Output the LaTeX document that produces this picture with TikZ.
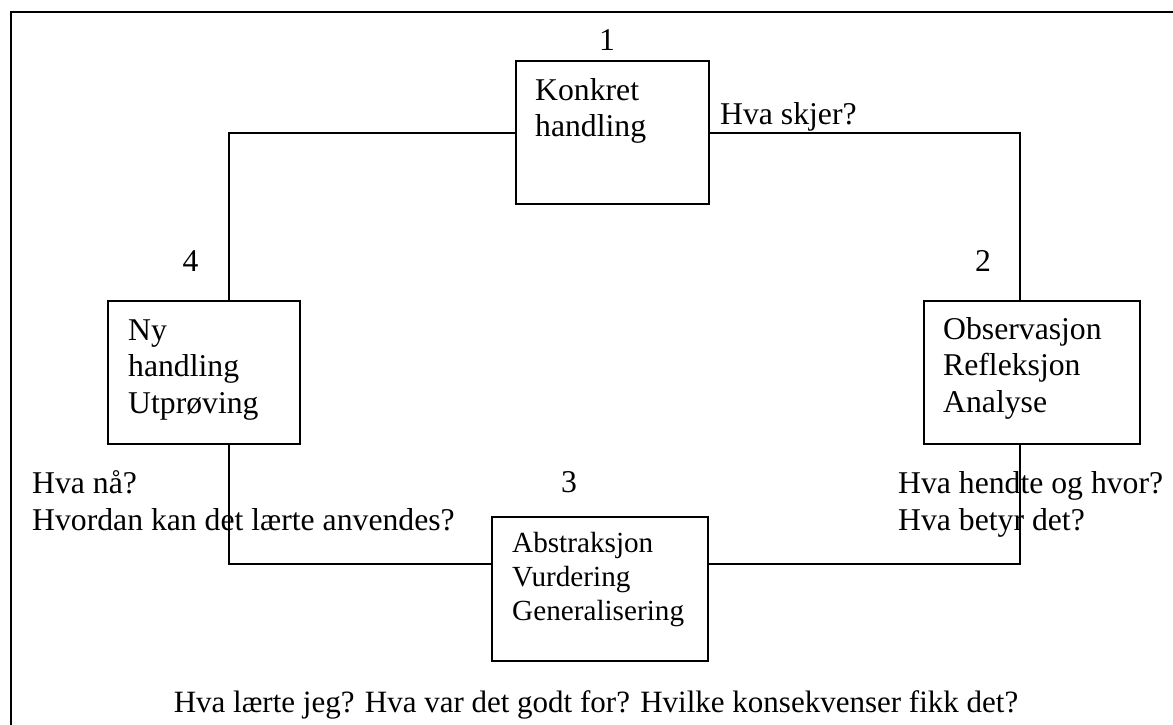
\documentclass[tikz,border=0pt]{standalone}
\usepackage{fontspec}
\setmainfont{Liberation Serif}
\usetikzlibrary{calc}
\begin{document}
\begin{tikzpicture}[x=1pt,y=-1pt,
  box/.style={draw,line width=2pt,anchor=north west,inner sep=0pt},
  txt/.style={anchor=base west,inner sep=0pt,align=left,font=\fontsize{31.7}{36.5}\selectfont},
  smalltxt/.style={anchor=base west,inner sep=0pt,align=left,font=\fontsize{29.2}{34}\selectfont},
  num/.style={anchor=base,inner sep=0pt,font=\fontsize{31.7}{36.5}\selectfont},
  bottomtxt/.style={anchor=base,inner sep=0pt,font=\fontsize{31}{36}\selectfont},
  conn/.style={line width=2pt},
  frame/.style={line width=2.5pt}]
\useasboundingbox (0,0) rectangle (1173,724);
% frame
\coordinate (fbl) at (11,730);
\coordinate (ftl) at (11,12);
\coordinate (ftr) at (1180,12);
\draw[frame] (fbl) -- (ftl) -- (ftr);
% boxes
\node[box,minimum width=193pt,minimum height=143pt] (b1) at (515,60) {};
\node[box,minimum width=216pt,minimum height=143pt] (b2) at (923,300) {};
\node[box,minimum width=216pt,minimum height=144pt] (b3) at (491,516) {};
\node[box,minimum width=192pt,minimum height=143pt] (b4) at (107,300) {};
% box texts (anchored at the baseline of the last line)
\node[txt] (t1) at (535,136.5) {Konkret\\handling};
\node[txt] (t2) at (943,412) {Observasjon\\Refleksjon\\Analyse};
\node[smalltxt] (t3) at (512,620) {Abstraksjon\\Vurdering\\Generalisering};
\node[txt] (t4) at (128,413) {Ny\\handling\\Utprøving};
% numbers
\node[num] (n1) at (607,50.5) {1};
\node[num] (n2) at (983,271.5) {2};
\node[num] (n3) at (569,492.5) {3};
\node[num] (n4) at (190.5,271.5) {4};
% connectors
\coordinate (b4t) at ($(b4.north west)!0.63!(b4.north east)$);
\coordinate (b4b) at ($(b4.south west)!0.63!(b4.south east)$);
\coordinate (b2t) at ($(b2.north west)!0.444!(b2.north east)$);
\coordinate (b2b) at ($(b2.south west)!0.444!(b2.south east)$);
\coordinate (b3w) at ($(b3.north west)!0.326!(b3.south west)$);
\coordinate (b3e) at ($(b3.north east)!0.326!(b3.south east)$);
\draw[conn] (b1.west) -| (b4t);
\draw[conn] (b1.east) -| (b2t);
\draw[conn] (b4b) |- (b3w);
\draw[conn] (b2b) |- (b3e);
% question texts
\node[txt] (q1) at (720,124) {Hva skjer?};
\node[txt] (q2) at (898,530) {Hva hendte og hvor?\\Hva betyr det?};
\node[txt] (q4) at (32,530) {Hva nå?\\Hvordan kan det lærte anvendes?};
\node[bottomtxt] (q3) at (596,712) {Hva lærte jeg? Hva var det godt for? Hvilke konsekvenser fikk det?};
\end{tikzpicture}
\end{document}
